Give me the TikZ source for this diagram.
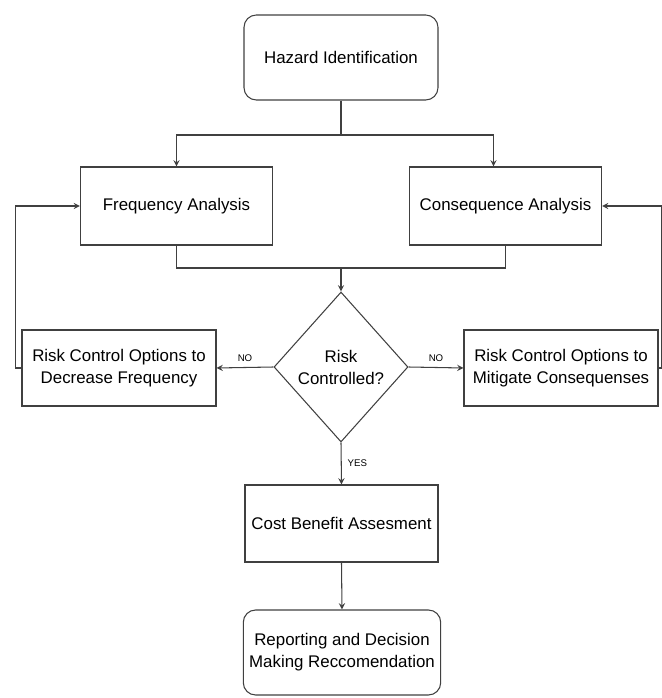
\documentclass[tikz,border=0pt]{standalone}
\usepackage{fontspec}
\setmainfont{Liberation Sans}
\usetikzlibrary{shapes.geometric,arrows}

\tikzset{
  box/.style={draw=black!75, line width=0.6pt, minimum width=3.86cm, minimum height=1.54cm,
              align=center, font=\fontsize{9.6}{12.5}\selectfont},
  roundbox/.style={box, rounded corners=7pt, minimum height=1.7cm},
  decision/.style={draw=black!75, line width=0.6pt, diamond, inner sep=0pt,
              minimum width=2.68cm, minimum height=3cm, align=center,
              font=\fontsize{9.6}{12.5}\selectfont},
  line/.style={draw=black!75, line width=0.6pt, >=stealth},
  tag/.style={font=\fontsize{5.5}{6}\selectfont}
}

\begin{document}
\begin{tikzpicture}
                \useasboundingbox (0,0) rectangle (13.24,13.96);

                % Draw the boxes
                \node[roundbox, minimum width=3.88cm] (hazard) at (6.82,12.81) {Hazard Identification};
                \node[box, minimum width=3.84cm, minimum height=1.56cm] (freq) at (3.53,9.84) {Frequency Analysis};
                \node[box, minimum width=3.84cm, minimum height=1.56cm] (cons) at (10.11,9.84) {Consequence Analysis};
                \node[decision] (risk) at (6.82,6.62) {Risk\\Controlled?};
                \node[box, minimum width=3.88cm, minimum height=1.52cm] (dec) at (2.38,6.6) {Risk Control Options to\\Decrease Frequency};
                \node[box, minimum width=3.88cm, minimum height=1.52cm] (mit) at (11.22,6.6) {Risk Control Options to\\Mitigate Consequenses};
                \node[box] (cost) at (6.83,3.49) {Cost Benefit Assesment};
                \node[roundbox, minimum width=3.88cm] (report) at (6.84,0.91) {Reporting and Decision\\Making Reccomendation};

                % Split and join points
                \coordinate (split) at (6.82,11.26);
                \coordinate (join) at (6.82,8.6);

                % Add the connectors
                \draw[line] (hazard.south) -- (split);
                \draw[line,->] (split) -| (freq.north);
                \draw[line,->] (split) -| ([xshift=-0.24cm]cons.north);
                \draw[line] (freq.south) |- (join) -| (cons.south);
                \draw[line,->] (join) -- (risk.north);
                \draw[line,->] (risk.west) -- (dec.east) node[tag, midway, above] {NO};
                \draw[line,->] (risk.east) -- (mit.west) node[tag, midway, above] {NO};
                \draw[line,->] (risk.south) -- (cost.north) node[tag, midway, right] {YES};
                \draw[line,->] (cost.south) -- (report.north);

                % Feedback loops
                \draw[line,->] (dec.west) -- ++(-0.12,0) |- (freq.west);
                \draw[line,->] (mit.east) -- ++(0.06,0) |- (cons.east);
            \end{tikzpicture}
\end{document}
